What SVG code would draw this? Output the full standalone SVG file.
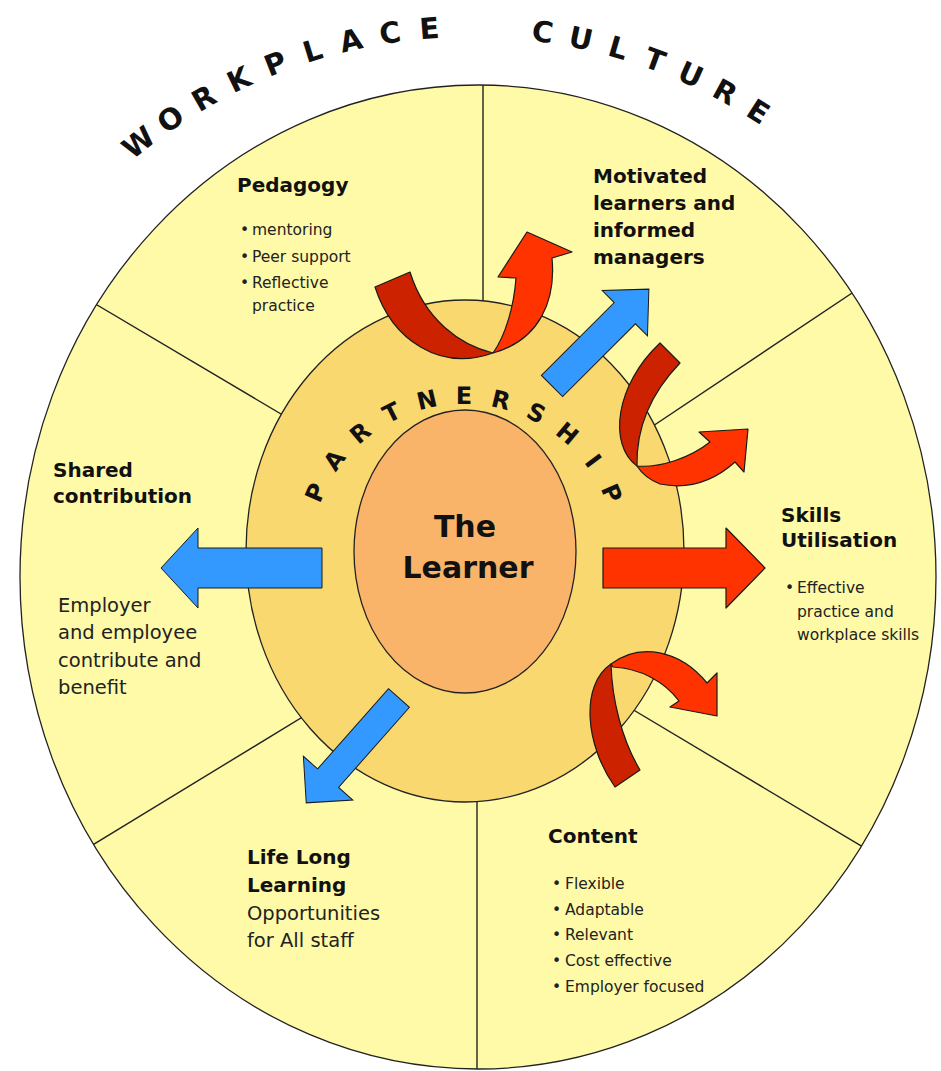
<svg xmlns="http://www.w3.org/2000/svg" width="941" height="1071" viewBox="0 0 941 1071">
<style>
.h{font-family:"DejaVu Sans",Verdana,sans-serif;font-weight:bold;font-size:20px;fill:#111}
.big{font-family:"DejaVu Sans",Verdana,sans-serif;font-weight:bold;font-size:30px;fill:#111}
.t{font-family:"DejaVu Sans",Verdana,sans-serif;font-size:19.5px;fill:#222}
.li{font-family:"DejaVu Sans",Verdana,sans-serif;font-size:15.5px;fill:#222}
.arc{font-family:"DejaVu Sans",Verdana,sans-serif;font-weight:bold;fill:#111}
.spoke{stroke:#222;stroke-width:1.4;fill:none}
.blue{fill:#3399ff;stroke:#1a1a1a;stroke-width:1}
.red{fill:#ff3300;stroke:#1a1a1a;stroke-width:1.2;stroke-linejoin:round}
.dark{fill:#cc2200;stroke:#1a1a1a;stroke-width:1.2;stroke-linejoin:round}
</style>
<defs>
<clipPath id="outerClip"><ellipse cx="478" cy="577" rx="458" ry="492"/></clipPath>
</defs>
<rect width="941" height="1071" fill="#ffffff"/>
<g id="workplace-culture">
<ellipse cx="478" cy="577" rx="458" ry="492" fill="#fffaa8"/>
<g clip-path="url(#outerClip)">
<line class="spoke" x1="483" y1="80" x2="483" y2="400"/>
<line class="spoke" x1="477" y1="700" x2="477" y2="1075"/>
<line class="spoke" x1="60" y1="283" x2="330" y2="443"/>
<line class="spoke" x1="900" y1="261" x2="620" y2="448"/>
<line class="spoke" x1="50" y1="871" x2="350" y2="688"/>
<line class="spoke" x1="600" y1="690" x2="920" y2="881"/>
</g>
<ellipse cx="478" cy="577" rx="458" ry="492" fill="none" stroke="#222" stroke-width="1.3"/>
<text class="arc" font-size="29" x="132.3 165.9 199.3 233.2 269.2 306.8 342.3 380.9 420.2 485 530.8 567.2 606.5 642.0 675.8 710.4 744.5" y="160.3 134.3 112.4 93.5 77.0 63.0 52.7 44.6 39.3 37 40.5 46.0 55.0 66.0 79.0 95.4 114.7" rotate="-38.5 -34.24 -29.98 -25.72 -21.46 -17.2 -12.94 -8.68 -4.42 1.7 7.8 11.95 16.1 20.25 24.4 28.55 32.7">WORKPLACE CULTURE</text>
</g>
<g id="partnership">
<ellipse cx="465" cy="551" rx="219" ry="251" fill="#f9d870" stroke="#222" stroke-width="1.3"/>
<text class="arc" font-size="24" x="319.8 335.5 358.5 388.0 418.9 455.7 490.1 524.7 554.3 583.7 600.5" y="503.9 472.5 445.3 423.7 410.3 404.0 406.0 416.5 433.4 462.2 488.4" rotate="-66.4 -53.09 -39.78 -26.47 -13.16 0.15 13.46 26.77 40.08 53.39 66.7">PARTNERSHIP</text>
</g>
<g id="learner">
<ellipse cx="465" cy="551.5" rx="111" ry="141.5" fill="#f9b46a" stroke="#222" stroke-width="1.3"/>
<text class="big" text-anchor="middle" x="465" y="537">The</text>
<text class="big" text-anchor="middle" x="468" y="578">Learner</text>
</g>
<g id="node-pedagogy">
<text class="h" x="237" y="192">Pedagogy</text>
<text class="li"><tspan x="240" y="235">•</tspan><tspan x="252" y="235">mentoring</tspan></text>
<text class="li"><tspan x="240" y="262">•</tspan><tspan x="252" y="262">Peer support</tspan></text>
<text class="li"><tspan x="240" y="288">•</tspan><tspan x="252" y="288">Reflective</tspan></text>
<text class="li" x="252" y="311">practice</text>
</g>
<g id="node-motivated">
<text class="h" x="593" y="183">Motivated</text>
<text class="h" x="593" y="210">learners and</text>
<text class="h" x="593" y="237">informed</text>
<text class="h" x="593" y="264">managers</text>
</g>
<g id="node-skills">
<text class="h" x="781" y="522">Skills</text>
<text class="h" x="781" y="547">Utilisation</text>
<text class="li"><tspan x="785" y="593">•</tspan><tspan x="797" y="593">Effective</tspan></text>
<text class="li" x="797" y="617">practice and</text>
<text class="li" x="797" y="640">workplace skills</text>
</g>
<g id="node-shared">
<text class="h" x="53" y="477">Shared</text>
<text class="h" x="53" y="503">contribution</text>
<text class="t" x="58" y="612">Employer</text>
<text class="t" x="58" y="639">and employee</text>
<text class="t" x="58" y="667">contribute and</text>
<text class="t" x="58" y="694">benefit</text>
</g>
<g id="node-lifelong">
<text class="h" x="247" y="864">Life Long</text>
<text class="h" x="247" y="892">Learning</text>
<text class="t" x="247" y="920">Opportunities</text>
<text class="t" x="247" y="947">for All staff</text>
</g>
<g id="node-content">
<text class="h" x="548" y="843">Content</text>
<text class="li"><tspan x="552" y="889">•</tspan><tspan x="565" y="889">Flexible</tspan></text>
<text class="li"><tspan x="552" y="915">•</tspan><tspan x="565" y="915">Adaptable</tspan></text>
<text class="li"><tspan x="552" y="940">•</tspan><tspan x="565" y="940">Relevant</tspan></text>
<text class="li"><tspan x="552" y="966">•</tspan><tspan x="565" y="966">Cost effective</tspan></text>
<text class="li"><tspan x="552" y="992">•</tspan><tspan x="565" y="992">Employer focused</tspan></text>
</g>
<g id="connectors">
<polygon class="blue" points="322,548 198,548 198,528 161,568 198,608 198,588 322,588"/>
<polygon class="red" points="603,548 726,548 726,528 765,568 726,608 726,588 603,588"/>
<polygon class="blue" transform="translate(552,386) rotate(-45)" points="0,-15 103,-15 103,-32 137,0 103,32 103,15 0,15"/>
<polygon class="blue" transform="translate(399,698) rotate(131.5)" points="0,-14 107,-14 107,-33 140,0 107,33 107,14 0,14"/>
<path class="dark" d="M375,287 C392,340 440,372 493,353 C460,345 425,320 410,272 Z"/>
<path class="red" d="M493,353 C506,335 514,305 516,278 L498,277 L527,232 L572,252 L552,258 C556,300 540,340 493,353 Z"/>
<path class="dark" d="M660,343 L680,363 C652,392 636,425 637,466 C608,445 615,385 660,343 Z"/>
<path class="red" d="M637,466 C660,468 690,458 710,442 L699,432 L748,429 L744,472 L735,462 C715,480 690,490 660,484 C650,480 642,474 637,466 Z"/>
<path class="dark" d="M615,787 L640,770 C622,740 612,700 611,664 C580,685 585,745 615,787 Z"/>
<path class="red" d="M611,664 C640,642 680,650 707,683 L717,673 L717,716 L670,707 L679,701 C665,682 640,668 613,667 Z"/>
</g>
</svg>
